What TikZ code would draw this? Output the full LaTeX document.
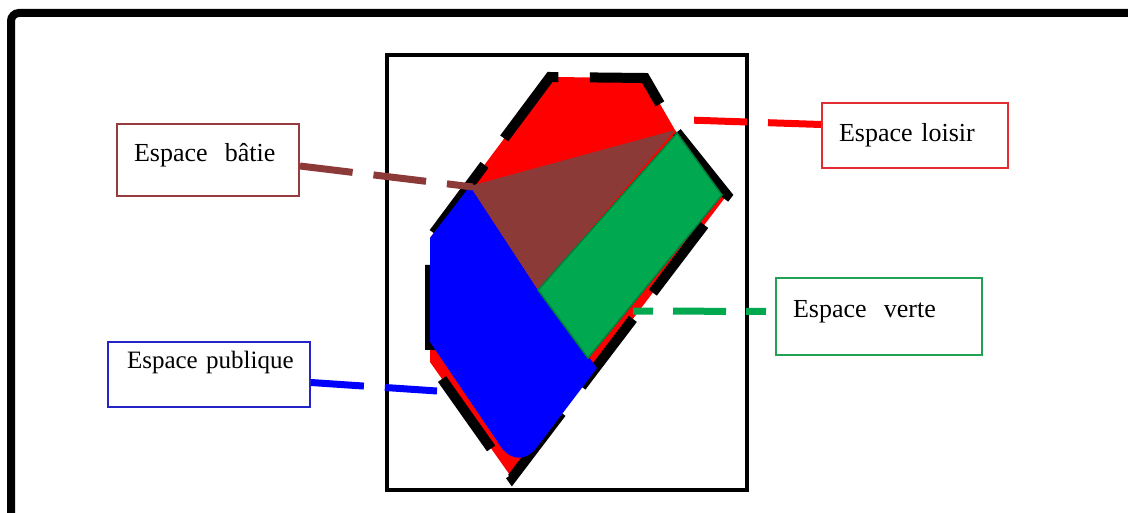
\documentclass[tikz,border=0pt]{standalone}
\usepackage{fontspec}
\setmainfont{Liberation Serif}
\usetikzlibrary{calc}
\definecolor{Rouge}{RGB}{255,0,0}
\definecolor{Bleu}{RGB}{0,0,255}
\definecolor{Vert}{RGB}{0,168,80}
\definecolor{Brun}{RGB}{140,58,56}
\definecolor{BrunBd}{RGB}{150,60,62}
\definecolor{RougeBd}{RGB}{226,44,52}
\definecolor{VertBd}{RGB}{34,160,84}
\definecolor{BleuBd}{RGB}{36,36,200}

\begin{document}
\begin{tikzpicture}[x=1pt,y=-1pt,
  every node/.style={font=\fontsize{26}{30}\selectfont},
  bx/.style={rectangle, line width=2pt, fill=white, inner xsep=17pt, inner ysep=0pt,
             align=left, text height=18pt},
  con/.style={line width=7pt, dash pattern=on 53pt off 21pt},
  contour/.style={line width=10pt, dash pattern=on 85pt off 33pt},
]
\useasboundingbox (0,0) rectangle (1128,513);
%% cadre + parcelle
\draw[line width=8pt, rounded corners=8pt] (11,520) -- (11,13) -- (1135,13);
\draw[line width=4pt] (387,55) rectangle (747,490);
\coordinate (p1) at (550,77);
\coordinate (p2) at (645,78);
\coordinate (p3) at (675,130);
\coordinate (p4) at (727,195);
\coordinate (p5) at (512,478);
\coordinate (p6) at (430,362);
\coordinate (p7) at (430,238);
\coordinate (p0) at ($(p1)!0.42!(p2)$);
\coordinate (b1) at (470,186);
\coordinate (g1) at (538,290);
\coordinate (g2) at (677,133);
\coordinate (g3) at (722,195);
\coordinate (g4) at (588,358);
\fill[Rouge] (p1) -- (p2) -- (p3) -- (p4) -- (p5) -- (p6) -- (p7) -- cycle;
\draw[contour] (p0) -- (p2) -- (p3) -- (p4) -- (p5) -- (p6) -- (p7) -- (p1) -- (p0);
\fill[Bleu] (b1) -- (g1) -- (597,368) [rounded corners=30pt] -- (518,472) [sharp corners] -- (430,342) -- (p7) -- cycle;
\fill[Brun] (b1) -- (p3) -- (g1) -- cycle;
\filldraw[fill=Vert, draw=Vert!75!black, line width=1.5pt] (g1) -- (g2) -- (g3) -- (g4) -- cycle;
%% legendes
\node[bx, draw=BrunBd, minimum width=182pt, minimum height=72pt, text width=148pt,
      text depth=14pt] (batie) at (208,160) {Espace~~bâtie};
\node[bx, draw=RougeBd, minimum width=186pt, minimum height=65pt, text width=152pt,
      text depth=5pt] (loisir) at (915,135.5) {Espace loisir};
\node[bx, draw=VertBd, minimum width=206pt, minimum height=77pt, text width=172pt,
      text depth=15pt] (verte) at (879,316.5) {Espace~~verte};
\node[bx, draw=BleuBd, minimum width=202pt, minimum height=65pt, text width=178pt,
      inner xsep=12pt, text depth=31pt, font=\fontsize{25}{30}\selectfont]
     (publique) at (209,374.5) {\hspace*{7pt}Espace publique};
\coordinate (batieend) at (473,187);
\coordinate (loisirend) at (688,120);
\coordinate (verteend) at (633,311);
\coordinate (publiqueend) at (437,391);
\draw[con, draw=Brun] ([yshift=-6pt]batie.east) -- (batieend);
\draw[con, draw=Rouge] ([yshift=11pt]loisir.west) -- (loisirend);
\draw[con, draw=Vert, dash pattern=on 20pt off 20pt on 53pt off 20pt] (verteend) -- ([yshift=5pt]verte.west);
\draw[con, draw=Bleu] ([yshift=-8pt]publique.east) -- (publiqueend);
\end{tikzpicture}
\end{document}
